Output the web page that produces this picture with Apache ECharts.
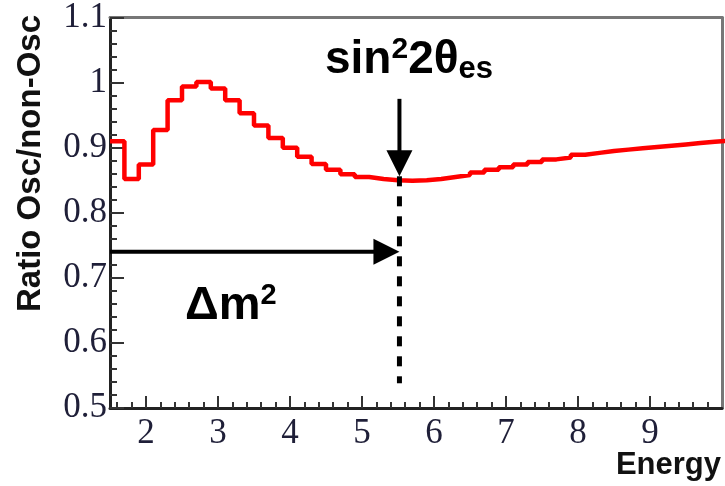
<!DOCTYPE html>
<html><head><meta charset="utf-8">
<script src="https://cdn.jsdelivr.net/npm/echarts@6/dist/echarts.min.js"></script>
<style>html,body{margin:0;padding:0;background:#fff}#c{width:725px;height:486px}</style>
</head><body><div id="c"></div>
<script>
// ---- data ----
const energyBinLow = [1.5,1.7,1.9,2.1,2.3,2.5,2.7,2.9,3.1,3.3,3.5,3.7,3.9,4.1,4.3,4.5,4.7,4.9,5.1,5.3,
  5.5,5.7,5.9,6.1,6.3,6.5,6.7,6.9,7.1,7.3,7.5,7.7,7.9,8.1,8.3,8.5,8.7,8.9,9.1,9.3,9.5,9.7,9.9];
const ratioOscNonOsc = [0.910,0.852,0.874,0.927,0.973,0.994,1.001,0.991,0.973,0.953,0.934,0.915,0.900,0.886,0.875,0.866,0.859,0.855,0.852,0.850,
  0.849,0.850,0.852,0.855,0.858,0.862,0.866,0.870,0.874,0.878,0.882,0.885,0.889,0.892,0.895,0.897,0.899,0.901,0.903,0.905,0.907,0.909,0.911];
const xTickLabels = [2,3,4,5,6,7,8,9];
const yTickLabels = [0.5,0.6,0.7,0.8,0.9,1,1.1];
const xTitle = 'Energy';
const yTitle = 'Ratio Osc/non-Osc';
const markEnergy = 5.52;      // energy of the sin^2 2θ marker
const dm2ArrowRatio = 0.74;   // height of the Δm² arrow
const sinArrowTop = 0.975;
const curveAtMark = 0.856;
const dashBottom = 0.538;

// ---- derived ----
const binW = +(energyBinLow[1] - energyBinLow[0]).toFixed(3);
const histData = energyBinLow.map((e, i) => [e, ratioOscNonOsc[i]]);
histData.push([+(energyBinLow[energyBinLow.length - 1] + binW).toFixed(3), ratioOscNonOsc[ratioOscNonOsc.length - 1]]);
const xMinor = [];
for (let k = 1; k <= 9; k++) for (let j = 1; j <= 4; j++) {
  const v = +(k + j * 0.2).toFixed(2);
  if (v > 1.5 && v < 10) xMinor.push(v);
}

const serif = 'Liberation Serif';
const sans = 'Liberation Sans';
const labelColor = '#1f1f38';
const axisColor = '#222';
const tickColor = '#333';
const frameColor = '#777';

const hidden = {axisTick: {show: false}, axisLabel: {show: false}, splitLine: {show: false}};

const chart = echarts.init(document.getElementById('c'), null, {renderer: 'canvas'});
chart.setOption({
  backgroundColor: '#fff',
  animation: false,
  grid: {left: 110, right: 3, top: 17, bottom: 78},
  xAxis: [{
    type: 'value', min: 1.5, max: 10, position: 'bottom',
    axisLine: {show: true, onZero: false, lineStyle: {color: axisColor, width: 3}},
    axisTick: {show: true, inside: true, length: 12, customValues: xTickLabels, lineStyle: {color: tickColor, width: 2}},
    axisLabel: {show: true, customValues: xTickLabels, margin: 8, fontFamily: serif, fontSize: 35, color: labelColor},
    splitLine: {show: false}
  }, {
    type: 'value', min: 1.5, max: 10, position: 'bottom',
    axisLine: {show: false},
    axisTick: {show: true, inside: true, length: 6, customValues: xMinor, lineStyle: {color: tickColor, width: 2}},
    axisLabel: {show: false},
    splitLine: {show: false}
  }, Object.assign({
    type: 'value', min: 1.5, max: 10, position: 'top',
    axisLine: {show: true, onZero: false, lineStyle: {color: frameColor, width: 3}}
  }, hidden)],
  yAxis: [{
    type: 'value', min: 0.5, max: 1.1, interval: 0.1, position: 'left',
    axisLine: {show: true, onZero: false, lineStyle: {color: axisColor, width: 3}},
    axisTick: {show: true, inside: true, length: 14, lineStyle: {color: tickColor, width: 2}},
    minorTick: {show: true, splitNumber: 5, length: 7, lineStyle: {color: tickColor, width: 2}},
    axisLabel: {show: true, margin: 3, fontFamily: serif, fontSize: 35, color: labelColor,
      formatter: v => String(+v.toFixed(1))},
    splitLine: {show: false}, minorSplitLine: {show: false}
  }, Object.assign({
    type: 'value', min: 0.5, max: 1.1, interval: 0.1, position: 'right',
    axisLine: {show: true, onZero: false, lineStyle: {color: frameColor, width: 3}}
  }, hidden)],
  series: [{
    type: 'line', xAxisIndex: 0, yAxisIndex: 0, step: 'end', data: histData, symbol: 'none', clip: true,
    lineStyle: {color: '#ff0000', width: 4.5}
  }]
});

const P = (x, y) => chart.convertToPixel({xAxisIndex: 0, yAxisIndex: 0}, [x, y]);
const h0 = P(1.5, dm2ArrowRatio), h1 = P(markEnergy, dm2ArrowRatio);
const v0 = P(markEnergy, sinArrowTop), v1 = P(markEnergy, curveAtMark);
const d1 = P(markEnergy, dashBottom);
const headL = 26, headW = 13;
const black = '#000';
chart.setOption({
  graphic: [
    {type: 'line', z: 100, shape: {x1: h0[0], y1: h0[1], x2: h1[0] - headL + 2, y2: h1[1]}, style: {stroke: black, lineWidth: 4}},
    {type: 'polygon', z: 100, shape: {points: [[h1[0], h1[1]], [h1[0] - headL, h1[1] - headW], [h1[0] - headL, h1[1] + headW]]}, style: {fill: black}},
    {type: 'line', z: 100, shape: {x1: v0[0], y1: v0[1], x2: v1[0], y2: v1[1] - headL + 2}, style: {stroke: black, lineWidth: 4}},
    {type: 'polygon', z: 100, shape: {points: [[v1[0], v1[1]], [v1[0] - headW, v1[1] - headL], [v1[0] + headW, v1[1] - headL]]}, style: {fill: black}},
    {type: 'line', z: 100, shape: {x1: v1[0], y1: v1[1], x2: d1[0], y2: d1[1]}, style: {stroke: black, lineWidth: 5, lineDash: [10, 10]}},
    {type: 'text', z: 100, x: 325, y: 60, style: {
      text: '{m|sin}{sup|2}{m|2θ}{sub|es}', align: 'left', verticalAlign: 'middle',
      rich: {
        m: {fontSize: 46, fontWeight: 'bold', fontFamily: sans, fill: black, lineHeight: 50},
        sup: {fontSize: 30, fontWeight: 'bold', fontFamily: sans, fill: black, lineHeight: 44, verticalAlign: 'top'},
        sub: {fontSize: 31, fontWeight: 'bold', fontFamily: sans, fill: black, lineHeight: 34, verticalAlign: 'bottom'}
      }}},
    {type: 'text', z: 100, x: 185, y: 306, style: {
      text: '{m|Δm}{sup|2}', align: 'left', verticalAlign: 'middle',
      rich: {
        m: {fontSize: 47, fontWeight: 'bold', fontFamily: sans, fill: black, lineHeight: 50},
        sup: {fontSize: 29, fontWeight: 'bold', fontFamily: sans, fill: black, lineHeight: 36, verticalAlign: 'top'}
      }}},
    {type: 'text', z: 100, x: 31, y: 15, rotation: Math.PI / 2, style: {
      text: yTitle, align: 'right', verticalAlign: 'middle', fontSize: 33, fontWeight: 'bold', fontFamily: sans, fill: '#111'}},
    {type: 'text', z: 100, x: 721, y: 465, style: {
      text: xTitle, align: 'right', verticalAlign: 'middle', fontSize: 31, fontWeight: 'bold', fontFamily: sans, fill: '#111'}}
  ]
});
</script></body></html>
